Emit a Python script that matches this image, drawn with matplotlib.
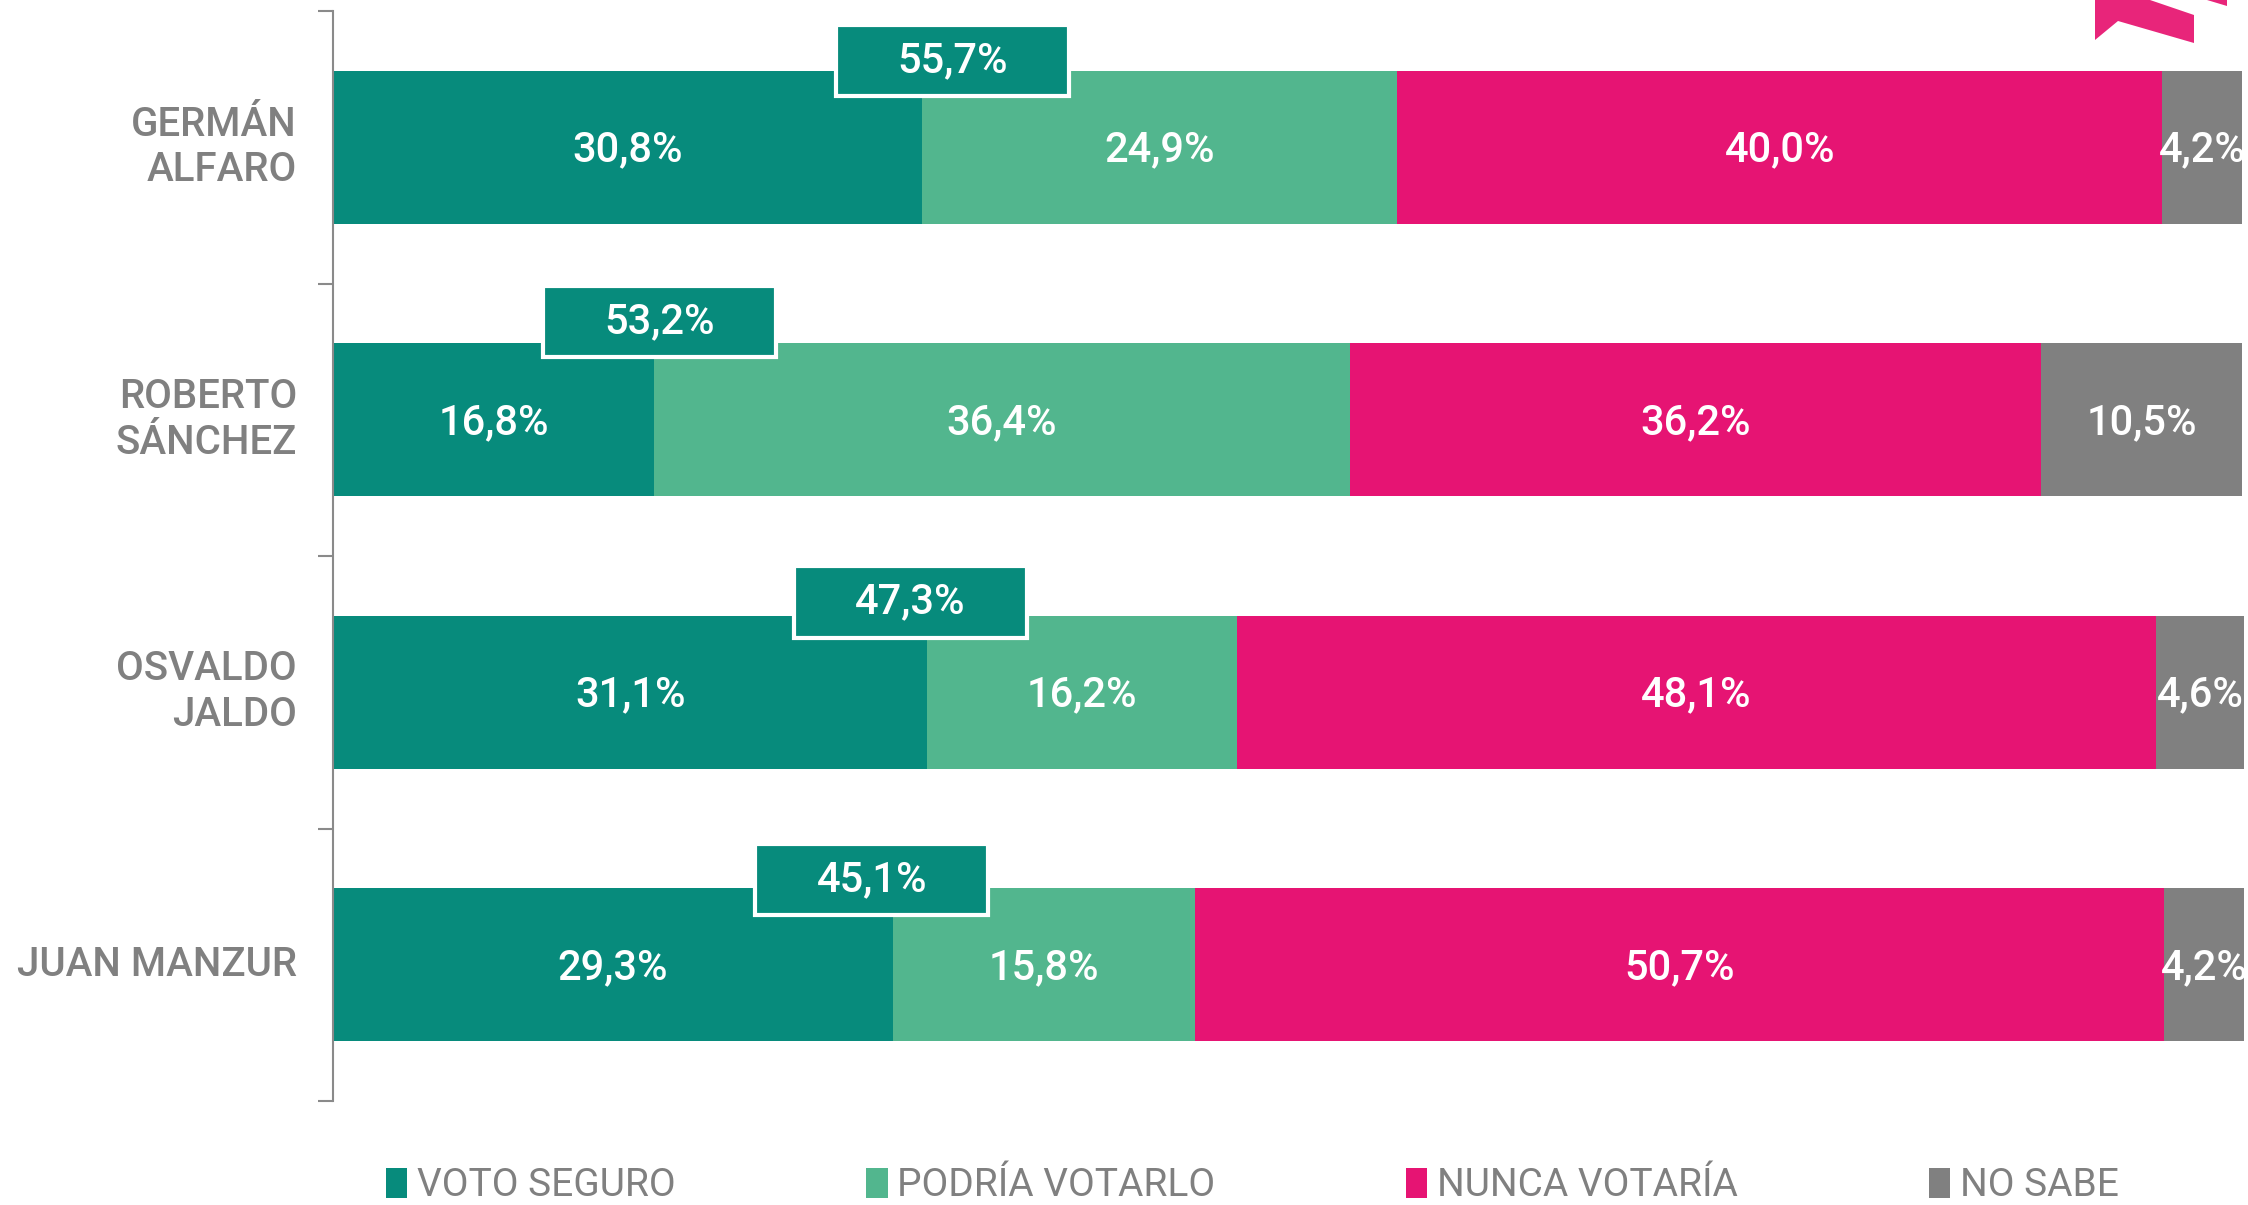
import numpy as np
import matplotlib.pyplot as plt
from matplotlib.patches import Patch, Polygon, Rectangle

plt.rcParams['font.family'] = ['Roboto', 'DejaVu Sans']

candidates = ["GERMÁN\nALFARO", "ROBERTO\nSÁNCHEZ", "OSVALDO\nJALDO", "JUAN MANZUR"]
voto_seguro = [30.8, 16.8, 31.1, 29.3]
podria_votarlo = [24.9, 36.4, 16.2, 15.8]
nunca_votaria = [40.0, 36.2, 48.1, 50.7]
no_sabe = [4.2, 10.5, 4.6, 4.2]
totals = [55.7, 53.2, 47.3, 45.1]

series_names = ["VOTO SEGURO", "PODRÍA VOTARLO", "NUNCA VOTARÍA", "NO SABE"]
colors = ["#078b7c", "#52b68e", "#e61473", "#808080"]
label_gray = "#808080"


def fmt(v):
    return f"{v:.1f}%".replace(".", ",")


def main():
    fig = plt.figure(figsize=(22.48, 12.05), dpi=100)
    ax = fig.add_axes([333 / 2248, 1 - 1101 / 1205, (2244 - 333) / 2248, 1090 / 1205])

    y = np.arange(len(candidates))
    h = 0.563
    left = np.zeros(len(candidates))
    series = [voto_seguro, podria_votarlo, nunca_votaria, no_sabe]
    for vals, col in zip(series, colors):
        vals = np.array(vals)
        ax.barh(y, vals, left=left, height=h, color=col, edgecolor="none")
        for yi, l, v in zip(y, left, vals):
            ax.text(l + v / 2, yi + 0.01, fmt(v), ha="center", va="center",
                    color="white", fontsize=30, fontweight="medium", zorder=5)
        left = left + vals

    # total boxes (voto seguro + podria votarlo), nudged like the original
    bw = 12.2
    dx = [1.6, 0.3, -0.9, -1.1]
    dy = [-0.168, -0.21, -0.18, -0.163]
    for yi, vs, t, ox, oy in zip(y, voto_seguro, totals, dx, dy):
        x0 = vs + ox - bw / 2
        top = yi - h / 2 + oy
        ax.add_patch(Rectangle((x0, top), bw, 0.262, facecolor=colors[0],
                               edgecolor="white", linewidth=3, zorder=6))
        ax.text(x0 + bw / 2, top + 0.131, fmt(t), ha="center", va="center",
                color="white", fontsize=30, fontweight="medium", zorder=7)

    ax.set_xlim(0, 100)
    ax.set_ylim(3.5, -0.5)
    for s in ["top", "right", "bottom"]:
        ax.spines[s].set_visible(False)
    ax.spines["left"].set_color("#8a8a8a")
    ax.spines["left"].set_linewidth(1.5)
    ax.set_xticks([])
    ax.set_yticks([-0.5, 0.5, 1.5, 2.5, 3.5])
    ax.set_yticklabels([])
    ax.tick_params(axis="y", length=11, width=1.5, color="#8a8a8a")

    for yi, name in zip(y, candidates):
        ax.text(-36 / 1911 * 100, yi, name, ha="right", va="center",
                color=label_gray, fontsize=29, fontweight="medium",
                linespacing=1.25)

    handles = [Patch(facecolor=c, edgecolor="none") for c in colors]
    fig.legend(handles, series_names, loc="center left", ncol=4,
               bbox_to_anchor=(386 / 2248, 1 - 1186 / 1205), frameon=False,
               fontsize=28, labelcolor=label_gray, handlelength=0.55,
               handleheight=0.8, handletextpad=0.25, columnspacing=4.9,
               borderaxespad=0, borderpad=0)

    # logo fragment top right
    px = [2095, 2095, 2118, 2194, 2194, 2150]
    py = [0, 40, 21, 43, 15, 0]
    fig.patches.append(Polygon(np.column_stack([np.array(px) / 2248, 1 - np.array(py) / 1205]),
                               closed=True, transform=fig.transFigure, facecolor="#e8257a",
                               edgecolor="none"))
    px2 = [2207, 2227, 2227]
    py2 = [0, 6, 0]
    fig.patches.append(Polygon(np.column_stack([np.array(px2) / 2248, 1 - np.array(py2) / 1205]),
                               closed=True, transform=fig.transFigure, facecolor="#e8257a",
                               edgecolor="none"))

    fig.savefig("out.png", dpi=100, facecolor="white")


if __name__ == "__main__":
    main()
